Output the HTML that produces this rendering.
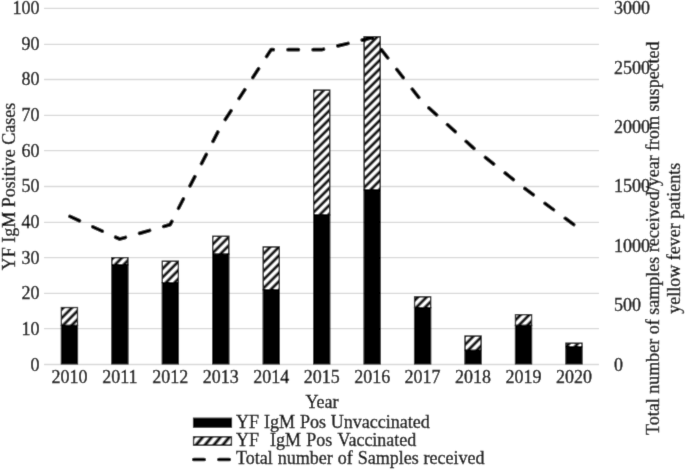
<!DOCTYPE html>
<html><head><meta charset="utf-8"><style>
html,body{margin:0;padding:0;background:#fff;}
svg{display:block;}
#w{will-change:transform;width:685px;height:470px;}
text{font-family:"Liberation Serif",serif;font-size:18px;fill:#000;stroke:#000;stroke-width:0.35px;}
</style></head><body>
<div id="w"><svg width="685" height="470" viewBox="0 0 685 470">
<defs>
<filter id="bl" x="0" y="0" width="685" height="470" filterUnits="userSpaceOnUse"><feConvolveMatrix order="3" kernelMatrix="0.01134 0.08382 0.01134 0.08382 0.61935 0.08382 0.01134 0.08382 0.01134" edgeMode="duplicate"/></filter>
<pattern id="hatch" patternUnits="userSpaceOnUse" width="6.0811" height="10" patternTransform="rotate(45)">
<rect width="6.0811" height="10" fill="#fff"/>
<rect x="5.650" width="0.431" height="10" fill="#000"/><rect x="0" width="2.269" height="10" fill="#000"/>
</pattern>
<pattern id="hatchL" patternUnits="userSpaceOnUse" width="6.8178" height="10" patternTransform="rotate(40)">
<rect width="6.8178" height="10" fill="#fff"/>
<rect x="5.291" width="1.527" height="10" fill="#000"/><rect x="0" width="1.373" height="10" fill="#000"/>
</pattern>
</defs>
<g filter="url(#bl)"><rect width="685" height="470" fill="#fff"/>
<line x1="44.0" y1="364.50" x2="599.0" y2="364.50" stroke="#d9d9d9" stroke-width="1.3"/>
<line x1="44.0" y1="328.60" x2="599.0" y2="328.60" stroke="#d9d9d9" stroke-width="1.3"/>
<line x1="44.0" y1="293.40" x2="599.0" y2="293.40" stroke="#d9d9d9" stroke-width="1.3"/>
<line x1="44.0" y1="257.55" x2="599.0" y2="257.55" stroke="#d9d9d9" stroke-width="1.3"/>
<line x1="44.0" y1="222.40" x2="599.0" y2="222.40" stroke="#d9d9d9" stroke-width="1.3"/>
<line x1="44.0" y1="186.50" x2="599.0" y2="186.50" stroke="#d9d9d9" stroke-width="1.3"/>
<line x1="44.0" y1="150.60" x2="599.0" y2="150.60" stroke="#d9d9d9" stroke-width="1.3"/>
<line x1="44.0" y1="115.35" x2="599.0" y2="115.35" stroke="#d9d9d9" stroke-width="1.3"/>
<line x1="44.0" y1="79.50" x2="599.0" y2="79.50" stroke="#d9d9d9" stroke-width="1.3"/>
<line x1="44.0" y1="44.30" x2="599.0" y2="44.30" stroke="#d9d9d9" stroke-width="1.3"/>
<line x1="44.0" y1="8.30" x2="599.0" y2="8.30" stroke="#d9d9d9" stroke-width="1.3"/>
<text x="39.4" y="370.60" text-anchor="end">0</text>
<text x="39.4" y="334.96" text-anchor="end">10</text>
<text x="39.4" y="299.32" text-anchor="end">20</text>
<text x="39.4" y="263.68" text-anchor="end">30</text>
<text x="39.4" y="228.04" text-anchor="end">40</text>
<text x="39.4" y="192.40" text-anchor="end">50</text>
<text x="39.4" y="156.76" text-anchor="end">60</text>
<text x="39.4" y="121.12" text-anchor="end">70</text>
<text x="39.4" y="85.48" text-anchor="end">80</text>
<text x="39.4" y="49.84" text-anchor="end">90</text>
<text x="39.4" y="14.20" text-anchor="end">100</text>
<text x="613.9" y="370.60">0</text>
<text x="613.9" y="311.20">500</text>
<text x="613.9" y="251.80">1000</text>
<text x="613.9" y="192.40">1500</text>
<text x="613.9" y="133.00">2000</text>
<text x="613.9" y="73.60">2500</text>
<text x="613.9" y="14.20">3000</text>
<rect x="61.38" y="307.53" width="16.10" height="17.92" fill="url(#hatch)" stroke="#000" stroke-width="1.3"/>
<rect x="60.73" y="324.80" width="17.40" height="39.70" fill="#000"/>
<rect x="111.83" y="257.63" width="16.10" height="7.23" fill="url(#hatch)" stroke="#000" stroke-width="1.3"/>
<rect x="111.18" y="264.21" width="17.40" height="100.29" fill="#000"/>
<rect x="162.29" y="261.19" width="16.10" height="21.48" fill="url(#hatch)" stroke="#000" stroke-width="1.3"/>
<rect x="161.64" y="282.03" width="17.40" height="82.47" fill="#000"/>
<rect x="212.74" y="236.25" width="16.10" height="17.92" fill="url(#hatch)" stroke="#000" stroke-width="1.3"/>
<rect x="212.09" y="253.52" width="17.40" height="110.98" fill="#000"/>
<rect x="263.20" y="246.94" width="16.10" height="42.87" fill="url(#hatch)" stroke="#000" stroke-width="1.3"/>
<rect x="262.55" y="289.16" width="17.40" height="75.34" fill="#000"/>
<rect x="313.65" y="90.12" width="16.10" height="124.84" fill="url(#hatch)" stroke="#000" stroke-width="1.3"/>
<rect x="313.00" y="214.31" width="17.40" height="150.19" fill="#000"/>
<rect x="364.10" y="36.66" width="16.10" height="153.35" fill="url(#hatch)" stroke="#000" stroke-width="1.3"/>
<rect x="363.45" y="189.36" width="17.40" height="175.14" fill="#000"/>
<rect x="414.56" y="296.83" width="16.10" height="10.79" fill="url(#hatch)" stroke="#000" stroke-width="1.3"/>
<rect x="413.91" y="306.98" width="17.40" height="57.52" fill="#000"/>
<rect x="465.01" y="336.04" width="16.10" height="14.36" fill="url(#hatch)" stroke="#000" stroke-width="1.3"/>
<rect x="464.36" y="349.74" width="17.40" height="14.76" fill="#000"/>
<rect x="515.47" y="314.65" width="16.10" height="10.79" fill="url(#hatch)" stroke="#000" stroke-width="1.3"/>
<rect x="514.82" y="324.80" width="17.40" height="39.70" fill="#000"/>
<rect x="565.92" y="343.17" width="16.10" height="3.66" fill="url(#hatch)" stroke="#000" stroke-width="1.3"/>
<rect x="565.27" y="346.18" width="17.40" height="18.32" fill="#000"/>
<text x="69.43" y="382.9" text-anchor="middle">2010</text>
<text x="119.88" y="382.9" text-anchor="middle">2011</text>
<text x="170.34" y="382.9" text-anchor="middle">2012</text>
<text x="220.79" y="382.9" text-anchor="middle">2013</text>
<text x="271.25" y="382.9" text-anchor="middle">2014</text>
<text x="321.70" y="382.9" text-anchor="middle">2015</text>
<text x="372.15" y="382.9" text-anchor="middle">2016</text>
<text x="422.61" y="382.9" text-anchor="middle">2017</text>
<text x="473.06" y="382.9" text-anchor="middle">2018</text>
<text x="523.52" y="382.9" text-anchor="middle">2019</text>
<text x="573.97" y="382.9" text-anchor="middle">2020</text>
<polyline points="69.23,216.10 119.68,239.05 170.14,224.60 220.59,126.60 271.05,49.70 321.50,49.70 371.95,37.80 422.41,102.10 472.86,147.50 523.32,187.40 573.77,224.60" fill="none" stroke="#000" stroke-width="3.7" stroke-dasharray="10.4 14.7" stroke-dashoffset="-0.8" stroke-linecap="round" stroke-linejoin="round"/>
<text x="322" y="407.9" text-anchor="middle">Year</text>
<text transform="translate(14.6,186.6) rotate(-90)" text-anchor="middle">YF IgM Positive Cases</text>
<text transform="translate(658.9,238.2) rotate(-90)" text-anchor="middle">Total number of samples received/year from suspected</text>
<text transform="translate(680.1,238.3) rotate(-90)" text-anchor="middle">yellow fever patients</text>
<rect x="192.9" y="417.6" width="39.2" height="10.2" fill="#000"/>
<rect x="193.55" y="436.85" width="37.9" height="8.3" fill="url(#hatchL)" stroke="#000" stroke-width="1.3"/>
<line x1="193.8" y1="459.5" x2="230.0" y2="459.5" stroke="#000" stroke-width="3.7" stroke-dasharray="10.4 14.7" stroke-linecap="round"/>
<text x="236.1" y="428.3" word-spacing="0.4">YF IgM Pos Unvaccinated</text>
<text x="236.1" y="446.1" xml:space="preserve" word-spacing="0.9">YF  IgM Pos Vaccinated</text>
<text x="236.1" y="464.3" word-spacing="0.45">Total number of Samples received</text>
</g></svg></div>
</body></html>
